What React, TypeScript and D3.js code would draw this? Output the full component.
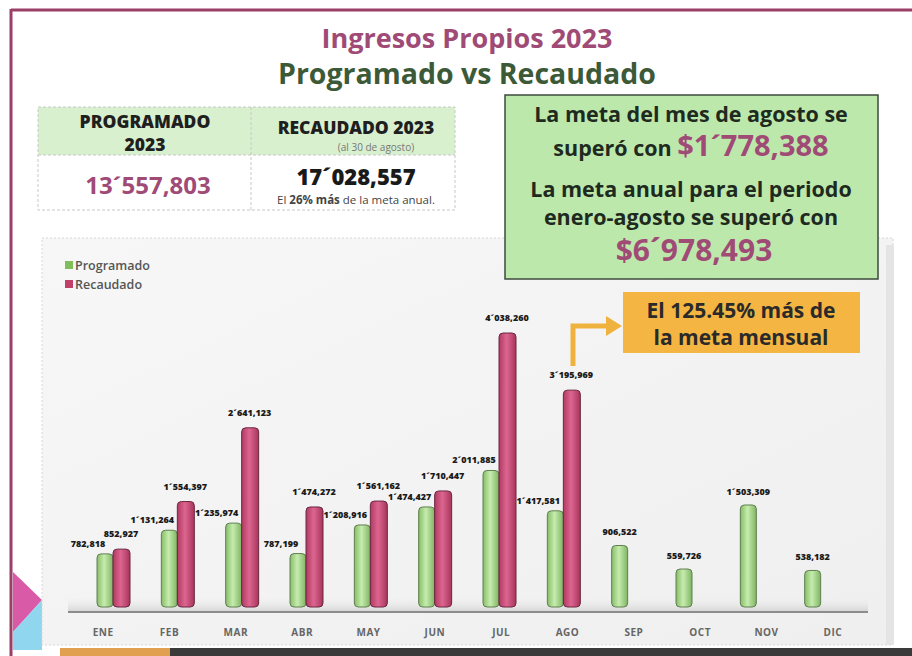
import React from 'react';
import * as d3 from 'd3';

const months = ['ENE', 'FEB', 'MAR', 'ABR', 'MAY', 'JUN', 'JUL', 'AGO', 'SEP', 'OCT', 'NOV', 'DIC'];
const programado = [782818, 1131264, 1235974, 787199, 1208916, 1474427, 2011885, 1417581, 906522, 559726, 1503309, 538182];
const recaudado: (number | null)[] = [852927, 1554397, 2641123, 1474272, 1561162, 1710447, 4038260, 3195969, null, null, null, null];
const legendItems = ['Programado', 'Recaudado'];

const W = 912;
const H = 656;
const PINK = '#a04a76';
const GREEN_TXT = '#3d5a38';
const FONT = "'Open Sans', 'DejaVu Sans', sans-serif";

// 1´131,264 style
const pad3 = d3.format('03d');
const fmt = (v: number) => {
  const m = Math.floor(v / 1e6);
  if (!m) return d3.format(',')(v);
  return `${m}´${pad3(Math.floor((v % 1e6) / 1000))},${pad3(v % 1000)}`;
};

export default function App() {
  const baseY = 607;
  const y = d3.scaleLinear().domain([0, 4038260]).range([baseY, 333]);
  // bars drawn in slight perspective: bar groups and labels use different bands
  const xBar = d3.scaleBand<string>().domain(months).range([86, 858]);
  const xLab = d3.scaleBand<string>().domain(months).range([70, 866]);
  const bw = 16;

  return (
    <div style={{ position: 'absolute', left: 0, top: 0 }}>
      <svg width={W} height={H} style={{ display: 'block', fontFamily: FONT }}>
        <defs>
          <linearGradient id="gG" x1="0" x2="1" y1="0" y2="0">
            <stop offset="0" stopColor="#86bd68" />
            <stop offset="0.45" stopColor="#c6ecae" />
            <stop offset="1" stopColor="#7fb463" />
          </linearGradient>
          <linearGradient id="gR" x1="0" x2="1" y1="0" y2="0">
            <stop offset="0" stopColor="#b13a62" />
            <stop offset="0.45" stopColor="#dc6690" />
            <stop offset="1" stopColor="#a8345b" />
          </linearGradient>
          <linearGradient id="panel" x1="0" x2="1" y1="0" y2="1">
            <stop offset="0" stopColor="#f7f7f7" />
            <stop offset="1" stopColor="#efefef" />
          </linearGradient>
          <linearGradient id="floor" x1="0" x2="0" y1="0" y2="1">
            <stop offset="0" stopColor="#f2f2f2" stopOpacity="0" />
            <stop offset="1" stopColor="#d8d8d8" />
          </linearGradient>
        </defs>

        <rect width={W} height={H} fill="#ffffff" />
        {/* frame */}
        <line x1={11} x2={W} y1={10} y2={10} stroke="#9b3f69" strokeWidth={3} />
        <line x1={11} x2={11} y1={9} y2={H} stroke="#9b3f69" strokeWidth={3} />
        <path d="M13,572 L42,600 L13,632 Z" fill="#d95aa6" />
        <path d="M13,632 L42,600 L42,650 L13,650 Z" fill="#8fd6ee" />
        <rect x={170} y={648} width={W - 170} height={8} fill="#3a3a3a" />
        <rect x={60} y={648} width={110} height={8} fill="#e0a050" />

        {/* titles */}
        <text x={467} y={48} textAnchor="middle" fontSize={27} fontWeight={700} fill={PINK}>Ingresos Propios 2023</text>
        <text x={467} y={84} textAnchor="middle" fontSize={28.5} fontWeight={700} fill={GREEN_TXT}>Programado vs Recaudado</text>

        {/* summary table */}
        <rect x={38} y={107} width={417} height={48} fill="#d9f0cf" />
        <rect x={38} y={155} width={417} height={55} fill="#ffffff" />
        <g stroke="#c8c8c8" strokeDasharray="3 2" fill="none">
          <rect x={38} y={107} width={417} height={103} />
          <line x1={38} x2={455} y1={155} y2={155} />
          <line x1={251} x2={251} y1={107} y2={210} />
        </g>
        <text x={145} y={128} textAnchor="middle" fontSize={17.5} fontWeight={800} fill="#1f1f1f">PROGRAMADO</text>
        <text x={145} y={151} textAnchor="middle" fontSize={17.5} fontWeight={800} fill="#1f1f1f">2023</text>
        <text x={356} y={134} textAnchor="middle" fontSize={17.5} fontWeight={800} fill="#1f1f1f">RECAUDADO 2023</text>
        <text x={376} y={151} textAnchor="middle" fontSize={10} fill="#777">(al 30 de agosto)</text>
        <text x={148} y={194} textAnchor="middle" fontSize={24} fontWeight={700} fill={PINK}>13´557,803</text>
        <text x={356} y={185} textAnchor="middle" fontSize={22} fontWeight={800} fill="#1a1a1a">17´028,557</text>
        <text x={356} y={204} textAnchor="middle" fontSize={11.5} fill="#444">
          El <tspan fontWeight={700}>26% más</tspan> de la meta anual.
        </text>

        {/* chart panel */}
        <rect x={42} y={238} width={851} height={407} fill="url(#panel)" stroke="#d6d6d6" strokeDasharray="2 2" />
        <rect x={886} y={245} width={8} height={400} fill="#e4e4e4" />

        {/* green note box */}
        <rect x={505} y={95} width={373} height={184} fill="#bde8ac" stroke="#3e4a3e" strokeWidth={1.5} />
        <g textAnchor="middle" fontWeight={700} fill="#1f2a1f">
          <text x={691} y={122} fontSize={21.5}>La meta del mes de agosto se</text>
          <text x={691} y={156} fontSize={21.5}>
            superó con <tspan fontSize={29} fill={PINK}>$1´778,388</tspan>
          </text>
          <text x={691} y={197} fontSize={21.5}>La meta anual para el periodo</text>
          <text x={691} y={225} fontSize={21.5}>enero-agosto se superó con</text>
          <text x={694} y={261} fontSize={30} fill={PINK}>$6´978,493</text>
        </g>

        {/* legend */}
        {legendItems.map((d, i) => (
          <g key={d} transform={`translate(65,${261 + i * 19})`}>
            <rect width={8} height={8} fill={i === 0 ? '#7fbf5a' : '#c0406a'} />
            <text x={10} y={8.5} fontSize={12.5} fontWeight={600} fill="#555">{d}</text>
          </g>
        ))}

        {/* floor + axis */}
        <rect x={68} y={596} width={800} height={15} fill="url(#floor)" />
        <line x1={68} x2={868} y1={612} y2={612} stroke="#8c8c8c" strokeWidth={2} />
        {months.map((m) => (
          <text key={m} x={xLab(m)! + xLab.bandwidth() / 2} y={636} textAnchor="middle" fontSize={10} fontWeight={700} fill="#666" letterSpacing={0.5}>{m}</text>
        ))}

        {/* bars */}
        {months.map((m, i) => {
          const gx = xBar(m)! + 11;
          const r = recaudado[i];
          const gTop = y(programado[i]);
          return (
            <g key={m}>
              <rect x={gx} y={gTop} width={bw} height={baseY - gTop} rx={4} fill="url(#gG)" stroke="#5f7f50" strokeWidth={1} />
              <text x={gx + bw / 2 + (r == null ? 0 : -17)} y={gTop - (r == null ? 10 : 7)} textAnchor="middle" fontSize={9} fontWeight={800} fill="#1a1a1a">{fmt(programado[i])}</text>
              {r != null && (
                <>
                  <rect x={gx + bw} y={y(r)} width={bw + 1} height={baseY - y(r)} rx={4} fill="url(#gR)" stroke="#6b2741" strokeWidth={1} />
                  <text x={gx + bw * 1.5} y={y(r) - 12} textAnchor="middle" fontSize={9} fontWeight={800} fill="#1a1a1a">{fmt(r)}</text>
                </>
              )}
            </g>
          );
        })}

        {/* callout */}
        <path d="M573,366 L573,326 L608,326" fill="none" stroke="#f0b23e" strokeWidth={5} />
        <path d="M606,316 L622,326 L606,336 Z" fill="#f0b23e" />
        <rect x={623} y={292} width={237} height={61} fill="#f4b542" />
        <g textAnchor="middle" fontWeight={700} fill="#2a2a2a" fontSize={21}>
          <text x={741} y={318}>El 125.45% más de</text>
          <text x={741} y={345}>la meta mensual</text>
        </g>
      </svg>
    </div>
  );
}
